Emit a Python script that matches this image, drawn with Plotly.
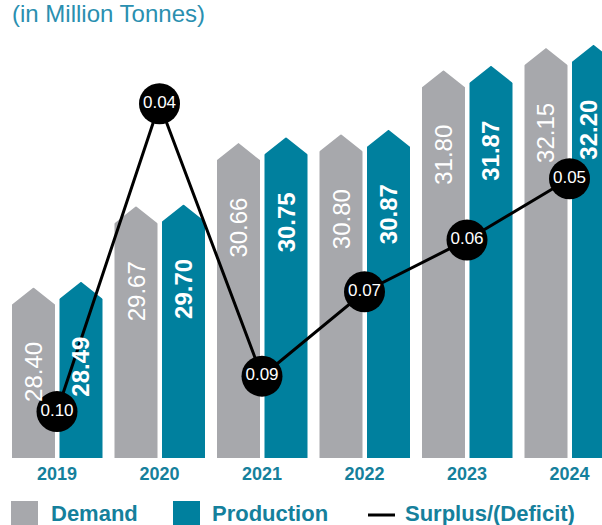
import plotly.graph_objects as go

# ---- data ----
years = ["2019", "2020", "2021", "2022", "2023", "2024"]
demand = [28.40, 29.67, 30.66, 30.80, 31.80, 32.15]
production = [28.49, 29.70, 30.75, 30.87, 31.87, 32.20]
surplus = [0.10, 0.04, 0.09, 0.07, 0.06, 0.05]
series_names = ["Demand", "Production", "Surplus/(Deficit)"]
unit_title = "(in Million Tonnes)"

# ---- styling ----
W, H = 602, 525
PLOT_BOTTOM = 458
PITCH = 102.5
GREY = "#a7a8ac"
TEAL = "#00809e"
TEXT_TEAL = "#15809c"
TITLE_TEAL = "#2a8fb0"
FONT = "Liberation Sans"

X_RANGE = [-57 / PITCH, (W - 57) / PITCH]
Y_RANGE = [25.73, 32.90]
Y2_RANGE = [-0.940, -1.532]  # log10, reversed

BAR_W = 43 / PITCH
OFF_D = -45 / PITCH
OFF_P = 2.5 / PITCH
CAP = 18 * (Y_RANGE[1] - Y_RANGE[0]) / PLOT_BOTTOM
EX = 1.2 / PITCH
EY = 3 * (Y_RANGE[1] - Y_RANGE[0]) / PLOT_BOTTOM

xs = list(range(len(years)))

fig = go.Figure()

fig.add_trace(go.Bar(x=xs, y=demand, offset=OFF_D, width=BAR_W, name=series_names[0],
                     marker=dict(color=GREY, line=dict(width=0)), showlegend=False,
                     hoverinfo="skip"))
fig.add_trace(go.Bar(x=xs, y=production, offset=OFF_P, width=BAR_W, name=series_names[1],
                     marker=dict(color=TEAL, line=dict(width=0)), showlegend=False,
                     hoverinfo="skip"))

# white cut corners to form arrow-shaped bar tops
cx, cy = [], []
for vals, off in ((demand, OFF_D), (production, OFF_P)):
    for i, v in zip(xs, vals):
        xl = i + off
        xr = xl + BAR_W
        xc = xl + BAR_W / 2
        cx += [xl - EX, xc, xc, xl - EX, None]
        cy += [v - CAP, v, v + EY, v + EY, None]
        cx += [xr + EX, xc, xc, xr + EX, None]
        cy += [v - CAP, v, v + EY, v + EY, None]
fig.add_trace(go.Scatter(x=cx, y=cy, mode="lines", fill="toself", fillcolor="white",
                         line=dict(width=0, color="white"), showlegend=False,
                         hoverinfo="skip"))

fig.add_trace(go.Scatter(x=xs, y=surplus, yaxis="y2", name=series_names[2],
                         mode="lines+markers+text",
                         line=dict(color="black", width=3),
                         marker=dict(color="black", size=41, line=dict(width=0)),
                         text=[f"{s:.2f}" for s in surplus], textposition="middle center",
                         textfont=dict(color="white", size=17, family=FONT),
                         showlegend=False, hoverinfo="skip"))

annotations = []
for vals, off, weight in ((demand, OFF_D, "normal"), (production, OFF_P, "bold")):
    for i, v in zip(xs, vals):
        xc = i + off + BAR_W / 2
        center_px = (xc - X_RANGE[0]) * PITCH
        shift = min(0.0, (W - 13) - center_px)  # keep the label box inside the page
        annotations.append(dict(x=xc, y=v, xref="x", yref="y",
                                text=f"{v:.2f}", showarrow=False, textangle=-90,
                                yshift=-85, xshift=shift, borderpad=0,
                                xanchor="center", yanchor="middle",
                                font=dict(color="white", size=24, family=FONT, weight=weight)))


def px_x(p):
    return p / W


def px_y(p):
    return (PLOT_BOTTOM - p) / PLOT_BOTTOM


annotations.append(dict(x=px_x(11), y=px_y(14), xref="paper", yref="paper",
                        text=unit_title, showarrow=False, xanchor="left", yanchor="middle",
                        borderpad=0,
                        font=dict(color=TITLE_TEAL, size=24, family=FONT)))

# custom legend
shapes = [
    dict(type="rect", xref="paper", yref="paper", x0=px_x(11), x1=px_x(38),
         y0=px_y(528), y1=px_y(501), fillcolor=GREY, line=dict(width=0)),
    dict(type="rect", xref="paper", yref="paper", x0=px_x(173), x1=px_x(200),
         y0=px_y(528), y1=px_y(501), fillcolor=TEAL, line=dict(width=0)),
    dict(type="line", xref="paper", yref="paper", x0=px_x(368), x1=px_x(395),
         y0=px_y(515), y1=px_y(515), line=dict(color="black", width=3)),
]
for name, xp in zip(series_names, (52, 213, 406)):
    annotations.append(dict(x=px_x(xp), y=px_y(513), xref="paper", yref="paper",
                            text=name, showarrow=False, xanchor="left", yanchor="middle",
                            xshift=-2, borderpad=0,
                            font=dict(color=TEXT_TEAL, size=22, family=FONT, weight="bold")))

fig.update_layout(
    width=W, height=H,
    margin=dict(l=0, r=0, t=0, b=H - PLOT_BOTTOM, pad=0),
    paper_bgcolor="white", plot_bgcolor="white",
    barmode="overlay",
    showlegend=False,
    xaxis=dict(range=X_RANGE, tickvals=xs, ticktext=years, showgrid=False, zeroline=False,
               showline=False, ticks="", ticklabelstandoff=3,
               tickfont=dict(color=TEXT_TEAL, size=18, family=FONT, weight="bold"),
               fixedrange=True),
    yaxis=dict(range=Y_RANGE, visible=False, showgrid=False, zeroline=False, fixedrange=True),
    yaxis2=dict(type="log", range=Y2_RANGE, overlaying="y", visible=False, showgrid=False,
                zeroline=False, fixedrange=True),
    annotations=annotations,
    shapes=shapes,
)

fig.write_html("out.html", config={"displayModeBar": False},
               post_script="document.body.style.margin='0';")
